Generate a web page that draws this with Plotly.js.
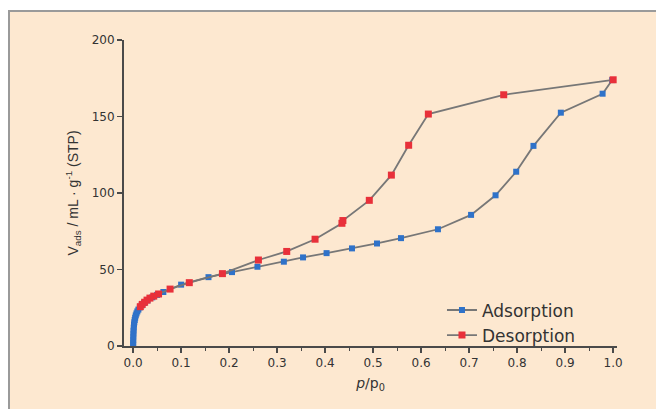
<!DOCTYPE html>
<html>
<head>
<meta charset="utf-8">
<script src="https://cdn.plot.ly/plotly-3.0.1.min.js"></script>
<style>
  html, body { margin: 0; padding: 0; background: #ffffff; }
  #frame { position: absolute; left: 8px; top: 10px; width: 648px; height: 399px;
           border-top: 2px solid #9a9a9a; border-left: 2px solid #9a9a9a; background: #fde8d0; box-sizing: border-box; }
  #chart { position: absolute; left: 0; top: 0; width: 656px; height: 409px; }
</style>
</head>
<body>
<div id="frame"></div>
<div id="chart"></div>
<script>
// Adsorption branch (relative pressure p/p0, adsorbed volume mL/g STP)
const adsX = [0.00005, 0.0001, 0.0002, 0.0004, 0.0006, 0.0009, 0.0013, 0.0018, 0.0025, 0.0033, 0.0043, 0.0055, 0.007, 0.0088, 0.011, 0.014, 0.018, 0.023, 0.03, 0.04, 0.05,
              0.063, 0.100, 0.157, 0.206, 0.259, 0.314, 0.354, 0.403, 0.456, 0.508, 0.558, 0.635, 0.704, 0.755, 0.798, 0.834, 0.891, 0.978, 0.998];
const adsY = [0.5, 2, 4, 6, 8, 10, 12, 14, 15.5, 17, 18.5, 20, 21.3, 22.6, 23.8, 25.2, 26.6, 28.1, 29.8, 31.8, 33.4,
              35.3, 40.1, 45.0, 48.3, 51.8, 55.1, 57.9, 60.7, 63.8, 67.0, 70.5, 76.3, 85.7, 98.5, 113.9, 130.8, 152.5, 164.9, 173.8];
// Desorption branch
const desX = [1.000, 0.772, 0.615, 0.574, 0.538, 0.492, 0.437, 0.435, 0.379, 0.320, 0.261, 0.186, 0.117, 0.077, 0.053, 0.043, 0.035, 0.029, 0.024, 0.019, 0.015];
const desY = [174.0, 164.2, 151.6, 131.2, 111.7, 95.2, 82.0, 80.2, 69.8, 61.8, 56.2, 47.3, 41.4, 37.2, 34.0, 32.6, 31.3, 30.0, 28.6, 27.2, 25.7];

const xTicks = [0, 0.1, 0.2, 0.3, 0.4, 0.5, 0.6, 0.7, 0.8, 0.9, 1.0];
const xTickText = ['0.0', '0.1', '0.2', '0.3', '0.4', '0.5', '0.6', '0.7', '0.8', '0.9', '1.0'];
const yTicks = [0, 50, 100, 150, 200];

const lineColor = '#777777';
const traces = [
  { x: adsX, y: adsY, name: 'Adsorption', mode: 'lines+markers', type: 'scatter',
    line: { color: lineColor, width: 1.8 },
    marker: { symbol: 'square', size: 6, color: '#2f72c9' } },
  { x: desX, y: desY, name: 'Desorption', mode: 'lines+markers', type: 'scatter',
    line: { color: lineColor, width: 1.8 },
    marker: { symbol: 'square', size: 7, color: '#e8303a' } }
];

const axisFont = { family: 'DejaVu Sans', size: 12, color: '#333333' };
const layout = {
  width: 656, height: 409,
  margin: { l: 124, r: 39, t: 40, b: 63 },
  paper_bgcolor: 'rgba(0,0,0,0)',
  plot_bgcolor: 'rgba(0,0,0,0)',
  showlegend: true,
  legend: { x: 0.645, y: 0.175, xanchor: 'left', yanchor: 'top', bgcolor: 'rgba(0,0,0,0)',
            font: { family: 'DejaVu Sans', size: 17, color: '#333333' }, tracegroupgap: 0 },
  xaxis: {
    range: [-0.019, 1.008], showgrid: false, zeroline: false,
    showline: true, linecolor: '#4a4a4a', linewidth: 2,
    ticks: 'outside', ticklen: 5, tickwidth: 1.5, tickcolor: '#4a4a4a',
    tickvals: xTicks, ticktext: xTickText, tickfont: axisFont,
    minor: { dtick: 0.05, ticks: 'outside', ticklen: 3, tickwidth: 1.2, tickcolor: '#4a4a4a', showgrid: false },
    title: { text: '<i>p</i>/p<sub>0</sub>', font: { family: 'DejaVu Sans', size: 14, color: '#333333' }, standoff: 9 }
  },
  yaxis: {
    range: [0, 200], showgrid: false, zeroline: false,
    showline: true, linecolor: '#4a4a4a', linewidth: 2,
    ticks: 'outside', ticklen: 5, tickwidth: 1.5, tickcolor: '#4a4a4a',
    tickvals: yTicks, tickfont: axisFont,
    title: { text: 'V<sub>ads</sub> / mL · g<sup>-1</sup> (STP)', font: { family: 'Liberation Sans', size: 14, color: '#333333' }, standoff: 10 }
  }
};

Plotly.newPlot('chart', traces, layout, { displayModeBar: false, staticPlot: true });
</script>
</body>
</html>
